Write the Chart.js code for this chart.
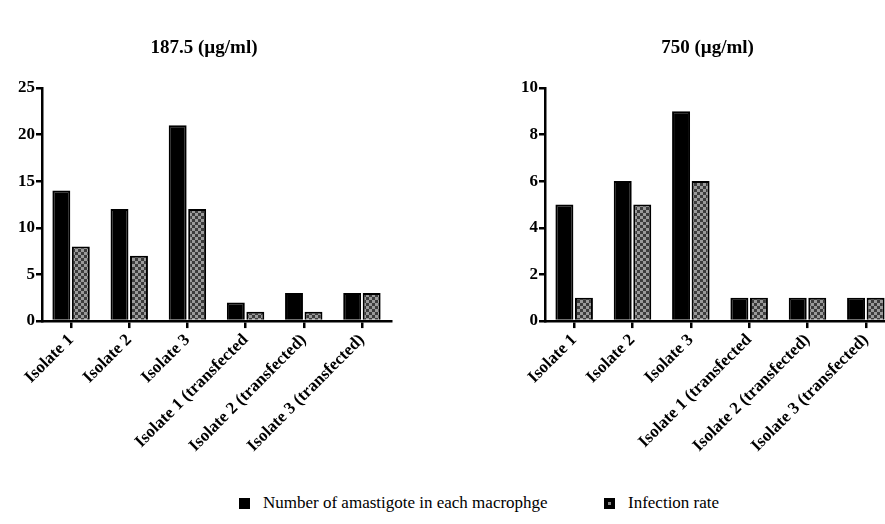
<!DOCTYPE html>
<html>
<head>
<meta charset="utf-8">
<script src="https://cdn.jsdelivr.net/npm/chart.js@4.4.1/dist/chart.umd.min.js"></script>
<style>
  body { margin: 0; background: #fff; width: 885px; height: 524px; position: relative; overflow: hidden; }
  .box { position: absolute; top: 0; height: 458px; }
  #left { left: 0; width: 400px; }
  #right { left: 490px; width: 405px; }
  .legend { position: absolute; top: 493px; left: 0; width: 885px; font-family: "Liberation Serif", serif; font-size: 17px; color: #000; }
  .item { position: absolute; top: 0; display: flex; align-items: center; }
  .sw { width: 11px; height: 11px; background: #000; margin-right: 13px; position: relative; }
  .sw.pat::after { content: ""; position: absolute; left: 4px; top: 4px; width: 3px; height: 3px; background: #888; }
</style>
</head>
<body>
<div class="box" id="left"><canvas id="chart-1"></canvas></div>
<div class="box" id="right"><canvas id="chart-2"></canvas></div>
<div class="legend">
  <div class="item" style="left:239px"><span class="sw"></span>Number of amastigote in each macrophge</div>
  <div class="item" style="left:604px"><span class="sw pat"></span>Infection rate</div>
</div>
<script>
const labels = ['Isolate 1', 'Isolate 2', 'Isolate 3', 'Isolate 1 (transfected', 'Isolate 2 (transfected)', 'Isolate 3 (transfected)'];
const seriesNames = ['Number of amastigote in each macrophge', 'Infection rate'];

// 187.5 (µg/ml)
const amastigote187 = [14, 12, 21, 2, 3, 3];
const infection187 = [8, 7, 12, 1, 1, 3];
const ticks187 = { max: 25, step: 5 };

// 750 (µg/ml)
const amastigote750 = [5, 6, 9, 1, 1, 1];
const infection750 = [1, 5, 6, 1, 1, 1];
const ticks750 = { max: 10, step: 2 };

// checkered fill for the infection rate bars
const makePattern = () => {
    const c = document.createElement('canvas');
    c.width = 6; c.height = 6;
    const g = c.getContext('2d');
    g.fillStyle = '#3c3c3c';
    g.fillRect(0, 0, 6, 6);
    g.fillStyle = '#9a9a9a';
    g.fillRect(0, 0, 3, 3);
    g.fillRect(3, 3, 3, 3);
    return g.createPattern(c, 'repeat');
};
const checker = makePattern();

const serif = '"Liberation Serif", "Times New Roman", serif';

const buildChart = (id, title, a, b, t, pad) => {
    const ctx = document.getElementById(id);
    return new Chart(ctx, {
        type: 'bar',
        data: {
            labels: labels,
            datasets: [{
                label: seriesNames[0],
                data: a,
                backgroundColor: '#000',
                borderColor: '#000',
                borderWidth: 2,
                barPercentage: 0.92,
                categoryPercentage: 0.67
            }, {
                label: seriesNames[1],
                data: b,
                backgroundColor: checker,
                borderColor: '#000',
                borderWidth: 2,
                barPercentage: 0.92,
                categoryPercentage: 0.67
            }]
        },
        options: {
            responsive: true,
            maintainAspectRatio: false,
            animation: false,
            layout: { padding: pad },
            scales: {
                x: {
                    grid: { drawOnChartArea: false, offset: false, color: '#000', lineWidth: 2.5, tickLength: 7 },
                    border: { color: '#000', width: 2.5 },
                    ticks: {
                        color: '#000',
                        font: { family: serif, size: 17, weight: 'bold' },
                        maxRotation: 45,
                        minRotation: 45,
                        autoSkip: false,
                        padding: 2
                    }
                },
                y: {
                    min: 0,
                    max: t.max,
                    grid: { drawOnChartArea: false, color: '#000', lineWidth: 2.5, tickLength: 6 },
                    border: { color: '#000', width: 2.5 },
                    ticks: {
                        stepSize: t.step,
                        color: '#000',
                        font: { family: serif, size: 17, weight: 'bold' },
                        padding: 1
                    }
                }
            },
            plugins: {
                legend: { display: false },
                tooltip: { enabled: false },
                title: {
                    display: true,
                    text: title,
                    color: '#000',
                    font: { family: serif, size: 19, weight: 'bold' },
                    padding: { top: 37, bottom: 28 }
                }
            }
        }
    });
};

buildChart('chart-1', '187.5 (µg/ml)', amastigote187, infection187, ticks187, { left: 17, right: 9, top: 0, bottom: 0 });
buildChart('chart-2', '750 (µg/ml)', amastigote750, infection750, ticks750, { left: 30, right: 0, top: 0, bottom: 0 });
</script>
</body>
</html>
